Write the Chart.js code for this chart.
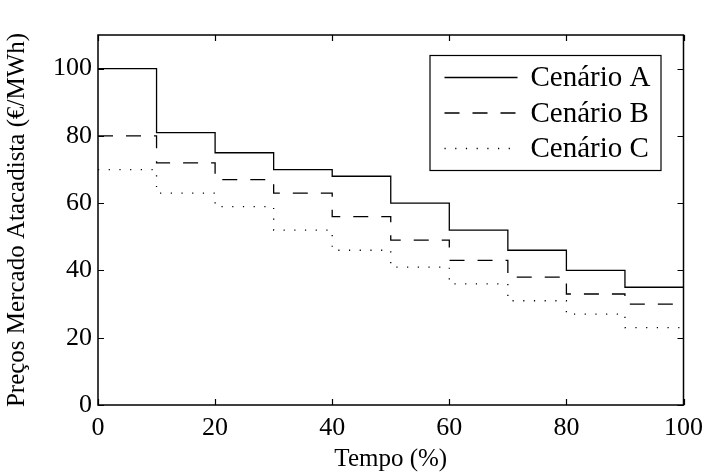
<!DOCTYPE html>
<html>
<head>
<meta charset="utf-8">
<script src="https://cdn.jsdelivr.net/npm/chart.js@4.4.0/dist/chart.umd.min.js"></script>
<style>
  html, body { margin: 0; padding: 0; background: #fff; }
  #wrap { width: 711px; height: 473px; }
</style>
</head>
<body>
<div id="wrap"><canvas id="c" width="711" height="473"></canvas></div>
<script>
// ---- data ----
const tempo = [0, 10, 20, 30, 40, 50, 60, 70, 80, 90, 100];
const cenarioA = [100, 81, 75, 70, 68, 60, 52, 46, 40, 35, 35];
const cenarioB = [80, 72, 67, 63, 56, 49, 43, 38, 33, 30, 30];
const cenarioC = [70, 63, 59, 52, 46, 41, 36, 31, 27, 23, 23];
const seriesNames = ['Cenário A', 'Cenário B', 'Cenário C'];
const xTicks = [0, 20, 40, 60, 80, 100];
const yTicks = [0, 20, 40, 60, 80, 100];
const xTitle = 'Tempo (%)';
const yTitle = 'Preços Mercado Atacadista (€/MWh)';

const FONT = 'Liberation Serif';
const toPts = (vals) => tempo.map((x, i) => ({ x: x, y: vals[i] }));
const dashes = [[], [15, 13], [1.2, 9.5]];

const datasets = [cenarioA, cenarioB, cenarioC].map((vals, i) => ({
  label: seriesNames[i],
  data: toPts(vals),
  borderColor: '#000',
  borderWidth: 1.3,
  borderDash: dashes[i],
  stepped: 'before',
  pointRadius: 0,
  fill: false,
  tension: 0
}));

const framePlugin = {
  id: 'frame',
  afterDraw(chart) {
    const ctx = chart.ctx;
    const a = chart.chartArea;
    const xs = chart.scales.x, ys = chart.scales.y;
    ctx.save();
    ctx.strokeStyle = '#000';
    ctx.lineWidth = 1.5;
    ctx.setLineDash([]);
    ctx.strokeRect(a.left, a.top, a.right - a.left, a.bottom - a.top);
    const tl = 6;
    ctx.lineWidth = 1.2;
    ctx.beginPath();
    xTicks.forEach(v => {
      const px = Math.round(xs.getPixelForValue(v)) + 0.5;
      ctx.moveTo(px, a.bottom); ctx.lineTo(px, a.bottom - tl);
      ctx.moveTo(px, a.top); ctx.lineTo(px, a.top + tl);
    });
    yTicks.forEach(v => {
      const py = Math.round(ys.getPixelForValue(v)) + 0.5;
      ctx.moveTo(a.left, py); ctx.lineTo(a.left + tl, py);
      ctx.moveTo(a.right, py); ctx.lineTo(a.right - tl, py);
    });
    ctx.stroke();

    // legend
    const bx = a.right - 254, by = a.top + 20, bw = 231, bh = 115;
    ctx.fillStyle = '#fff';
    ctx.fillRect(bx, by, bw, bh);
    ctx.lineWidth = 1.2;
    ctx.strokeRect(bx + 0.5, by + 0.5, bw, bh);
    ctx.font = '29px "' + FONT + '"';
    ctx.textBaseline = 'middle';
    ctx.textAlign = 'left';
    chart.data.datasets.forEach((ds, i) => {
      const cy = by + 22.5 + i * 35.5;
      ctx.beginPath();
      ctx.setLineDash(ds.borderDash);
      ctx.lineWidth = ds.borderWidth;
      ctx.moveTo(bx + 15, cy);
      ctx.lineTo(bx + 88, cy);
      ctx.stroke();
      ctx.setLineDash([]);
      ctx.fillStyle = '#000';
      ctx.fillText(ds.label, bx + 101, cy + 1);
    });
    ctx.restore();
  }
};

new Chart(document.getElementById('c'), {
  type: 'line',
  data: { datasets },
  options: {
    responsive: false,
    animation: false,
    events: [],
    layout: { padding: { top: 35, right: 25, left: 0, bottom: 0 } },
    plugins: { legend: { display: false }, tooltip: { enabled: false } },
    scales: {
      x: {
        type: 'linear', min: 0, max: 100,
        afterBuildTicks: (s) => { s.ticks = xTicks.map(v => ({ value: v })); },
        afterFit: (s) => { s.height = 68; },
        grid: { display: false, drawTicks: false },
        border: { display: false },
        ticks: { color: '#000', padding: 8, maxRotation: 0, autoSkip: false,
                 font: { family: FONT, size: 26 } },
        title: { display: true, text: xTitle, color: '#000',
                 font: { family: FONT, size: 25 }, padding: { top: 0, bottom: -1 } }
      },
      y: {
        type: 'linear', min: 0, max: 110,
        afterBuildTicks: (s) => { s.ticks = yTicks.map(v => ({ value: v })); },
        afterFit: (s) => { s.width = 98; },
        grid: { display: false, drawTicks: false },
        border: { display: false },
        ticks: { color: '#000', padding: 6, autoSkip: false,
                 font: { family: FONT, size: 26 } },
        title: { display: true, text: yTitle, color: '#000',
                 font: { family: FONT, size: 25 }, padding: { top: 2, bottom: 0 } }
      }
    }
  },
  plugins: [framePlugin]
});
</script>
</body>
</html>
